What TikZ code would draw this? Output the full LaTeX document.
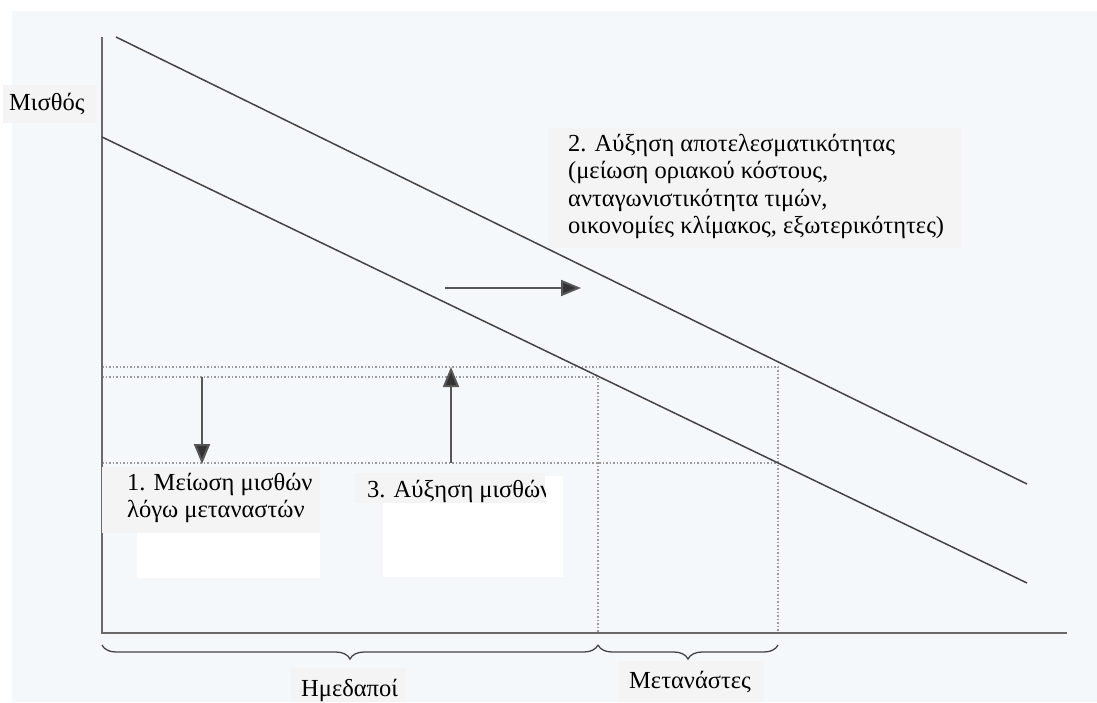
\documentclass[tikz,border=0pt]{standalone}
\usepackage{fontspec}
\setmainfont{Liberation Serif}
\usetikzlibrary{arrows.meta,decorations.pathreplacing}
\definecolor{bgblue}{HTML}{F5F8FB}
\definecolor{boxgray}{HTML}{F4F4F4}
\definecolor{linegray}{HTML}{444444}
\definecolor{dotgray}{HTML}{9A9A9A}
\definecolor{headgray}{HTML}{333333}
\tikzset{
  curve/.style={draw=linegray,line width=1.5pt},
  axisline/.style={draw=linegray!80,line width=1.6pt},
  guide/.style={draw=dotgray,line width=1.2pt,dash pattern=on 1.5pt off 2pt},
  shift arrow/.style={draw=linegray!90,line width=2pt,-{Triangle[length=20pt,width=16pt,fill=headgray]}},
  labeltext/.style={inner sep=0pt,anchor=base west,text=black,align=left,font=\fontsize{24.5}{27.5}\selectfont},
  bracestyle/.style={draw=linegray,line width=1.3pt,decorate,decoration={brace,mirror,amplitude=14pt}}
}
\begin{document}
\begin{tikzpicture}[x=1pt,y=-1pt]
\useasboundingbox (0,0) rectangle (1097,702);
\fill[white] (0,0) rectangle (1097,702);
\fill[bgblue] (12,11) rectangle (1097,702);

% points
\coordinate (O) at (102,633);
\coordinate (Ytop) at (102,37);
\coordinate (Xend) at (1067,633);
\coordinate (D2a) at (116,37);
\coordinate (D2b) at (1027,484);
\coordinate (D1a) at (102,137);
\coordinate (D1b) at (1027,583);
\coordinate (PA) at (778,367);
\coordinate (PB) at (598,377);
\coordinate (PC) at (778,463);
\coordinate (YA) at (102,367);
\coordinate (YB) at (102,377);
\coordinate (YC) at (102,463);
\coordinate (XB) at (598,633);
\coordinate (XA) at (778,633);
\coordinate (XB1) at (598,645);
\coordinate (XA1) at (778,645);
\coordinate (O1) at (102,645);

% guides
\draw[guide] (YA) -- (PA) -- (XA);
\draw[guide] (YB) -- (PB) -- (XB);
\draw[guide] (YC) -- (PC);

% axes
\draw[axisline] (Ytop) -- (O) -- (Xend);

% curves
\draw[curve] (D2a) -- (D2b);
\draw[curve] (D1a) -- (D1b);

% arrows
\coordinate (a1s) at (202,377);
\coordinate (a1e) at (202,464);
\coordinate (a3s) at (451,463);
\coordinate (a3e) at (451,367);
\coordinate (a2s) at (445,288);
\coordinate (a2e) at (581,288);
\draw[shift arrow] (a1s) -- (a1e);
\draw[shift arrow] (a3s) -- (a3e);
\draw[shift arrow] (a2s) -- (a2e);

% braces
\draw[bracestyle] (O1) -- (XB1);
\draw[bracestyle] (XB1) -- (XA1);

% label: wage
\fill[boxgray] (3,85) rectangle (97,123);
\node[labeltext] (wage) at (9,110) {Μισθός};

% label 2 (base = last line)
\fill[boxgray] (548,128) rectangle (961,248);
\node[labeltext] (eff) at (568,233.5) {2. Αύξηση αποτελεσματικότητας\\(μείωση οριακού κόστους,\\ανταγωνιστικότητα τιμών,\\οικονομίες κλίμακος, εξωτερικότητες)};

% label 1 (base = last line)
\fill[white] (137,533) rectangle (320,578);
\fill[boxgray] (102,467) rectangle (320,533);
\node[labeltext] (cut) at (127,517.5) {1. Μείωση μισθών\\λόγω μεταναστών};

% label 3
\fill[white] (383,476) rectangle (563,577);
\fill[boxgray] (354,473) rectangle (545,503);
\begin{scope}
\clip (354,473) rectangle (545,503);
\node[labeltext] (rise) at (367,497) {3. Αύξηση μισθών};
\end{scope}

% bottom labels
\fill[boxgray] (291,668) rectangle (406,702);
\node[labeltext] (natives) at (301,696) {Ημεδαποί};
\fill[boxgray] (618,661) rectangle (764,702);
\node[labeltext] (migrants) at (629,688) {Μετανάστες};
\end{tikzpicture}
\end{document}
